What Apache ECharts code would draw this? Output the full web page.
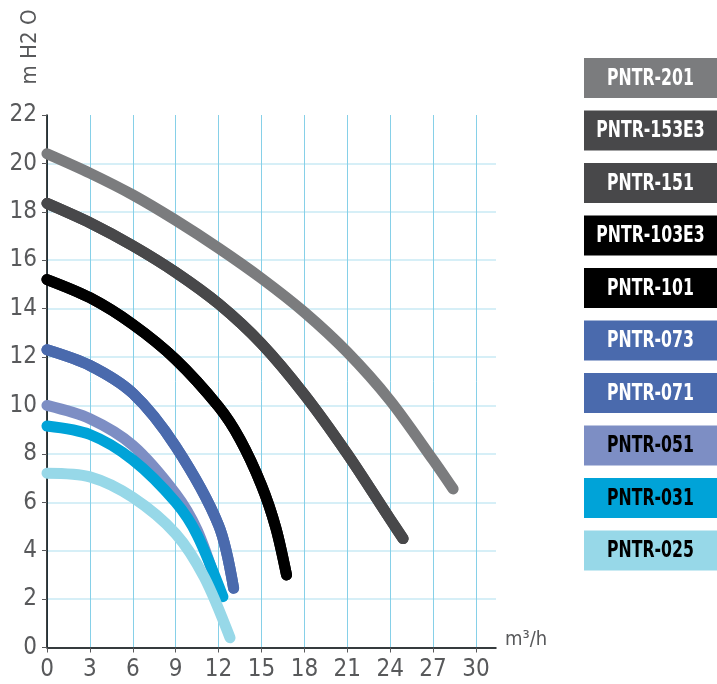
<!DOCTYPE html>
<html>
<head>
<meta charset="utf-8">
<script src="https://cdn.jsdelivr.net/npm/echarts@6/dist/echarts.min.js"></script>
<style>html,body{margin:0;padding:0;background:#fff}#c{width:717px;height:684px}</style>
</head>
<body>
<div id="c"></div>
<script>
// Series names (legend order)
var names = ['PNTR-201','PNTR-153E3','PNTR-151','PNTR-103E3','PNTR-101','PNTR-073','PNTR-071','PNTR-051','PNTR-031','PNTR-025'];
var colors = ['#7b7c7e','#48484a','#48484a','#000000','#000000','#4a6aad','#4a6aad','#7d8ec4','#00a3d8','#97d8e8'];
var textColors = ['#ffffff','#ffffff','#ffffff','#ffffff','#ffffff','#ffffff','#ffffff','#000000','#000000','#000000'];

// Curve data [flow m3/h, head m H2O]
var pntr201   = [[0,20.4],[3,19.6],[6,18.7],[9,17.65],[12,16.5],[15,15.25],[18,13.85],[21,12.2],[24,10.2],[27,7.75],[28.4,6.55]];
var pntr153E3 = [[0,18.35],[3,17.55],[6,16.6],[9,15.5],[12,14.2],[15,12.55],[18,10.45],[21,8.0],[24,5.3],[24.9,4.5]];
var pntr151   = [[0,18.35],[3,17.55],[6,16.6],[9,15.5],[12,14.2],[15,12.55],[18,10.45],[21,8.0],[24,5.3],[24.9,4.5]];
var pntr103E3 = [[0,15.2],[3,14.45],[6,13.35],[9,11.9],[12,9.95],[13.5,8.6],[15,6.7],[16,4.95],[16.75,3.0]];
var pntr101   = [[0,15.2],[3,14.45],[6,13.35],[9,11.9],[12,9.95],[13.5,8.6],[15,6.7],[16,4.95],[16.75,3.0]];
var pntr073   = [[0,12.3],[3,11.65],[6,10.5],[9,8.3],[12,5.05],[13.05,2.45]];
var pntr071   = [[0,12.3],[3,11.65],[6,10.5],[9,8.3],[12,5.05],[13.05,2.45]];
var pntr051   = [[0,10.0],[3,9.45],[6,8.35],[9,6.35],[10.5,4.85],[11.9,2.55]];
var pntr031   = [[0,9.15],[3,8.8],[6,7.75],[9,6.0],[10.5,4.65],[12.3,2.1]];
var pntr025   = [[0,7.2],[3,7.05],[6,6.2],[9,4.7],[11,2.9],[12.8,0.4]];
var seriesData = [pntr201,pntr153E3,pntr151,pntr103E3,pntr101,pntr073,pntr071,pntr051,pntr031,pntr025];

var xTicks = [0,3,6,9,12,15,18,21,24,27,30];
var yTicks = [0,2,4,6,8,10,12,14,16,18,20,22];
var yAxisTitle = 'm H2 O';
var xAxisTitle = 'm³/h';

var FONT = "'DejaVu Sans Condensed','DejaVu Sans',sans-serif";
var chart = echarts.init(document.getElementById('c'), null, {renderer:'canvas'});

var series = names.map(function(n,i){
  return {
    name:n, type:'line', data:seriesData[i], smooth:0.3, symbol:'none',
    lineStyle:{color:colors[i], width:11, cap:'round', join:'round'},
    itemStyle:{color:colors[i]}, silent:true, z:2+i
  };
});

var graphics = [];
names.forEach(function(n,i){
  var top = 58 + i*52.5;
  graphics.push({type:'rect', left:584, top:top, shape:{width:133,height:40}, style:{fill:colors[i]}});
  graphics.push({type:'text', x:650.5, y:top+21, scaleX:0.76, style:{text:n, fill:textColors[i], font:"bold 23px " + FONT, align:'center', verticalAlign:'middle'}});
});
graphics.push({type:'text', x:30, y:47, rotation:Math.PI/2, style:{text:yAxisTitle, fill:'#58595b', font:"22px " + FONT, align:'center', verticalAlign:'middle'}});
graphics.push({type:'text', x:505, y:640, style:{text:xAxisTitle, fill:'#58595b', font:"20px " + FONT, align:'left', verticalAlign:'middle'}});

chart.setOption({
  animation:false,
  backgroundColor:'#ffffff',
  grid:{left:47, top:115, width:449, height:532.5, containLabel:false},
  xAxis:{
    type:'value', min:0, max:31.4, interval:3,
    axisLine:{show:true, lineStyle:{color:'#000', width:1.5}},
    axisTick:{show:true, length:5, lineStyle:{color:'#58595b'}, customValues:xTicks},
    axisLabel:{color:'#58595b', fontSize:24, fontFamily:FONT, margin:10, customValues:xTicks},
    splitLine:{show:true, lineStyle:{color:'#86d0e8', width:1}}
  },
  yAxis:{
    type:'value', min:0, max:22, interval:2,
    axisLine:{show:true, lineStyle:{color:'#000', width:1.5}},
    axisTick:{show:true, length:5, lineStyle:{color:'#58595b'}},
    axisLabel:{color:'#58595b', fontSize:24, fontFamily:FONT, margin:10},
    splitLine:{show:true, showMaxLine:false, lineStyle:{color:'#c8eaf4', width:1.5}}
  },
  series:series,
  graphic:graphics
});
</script>
</body>
</html>
